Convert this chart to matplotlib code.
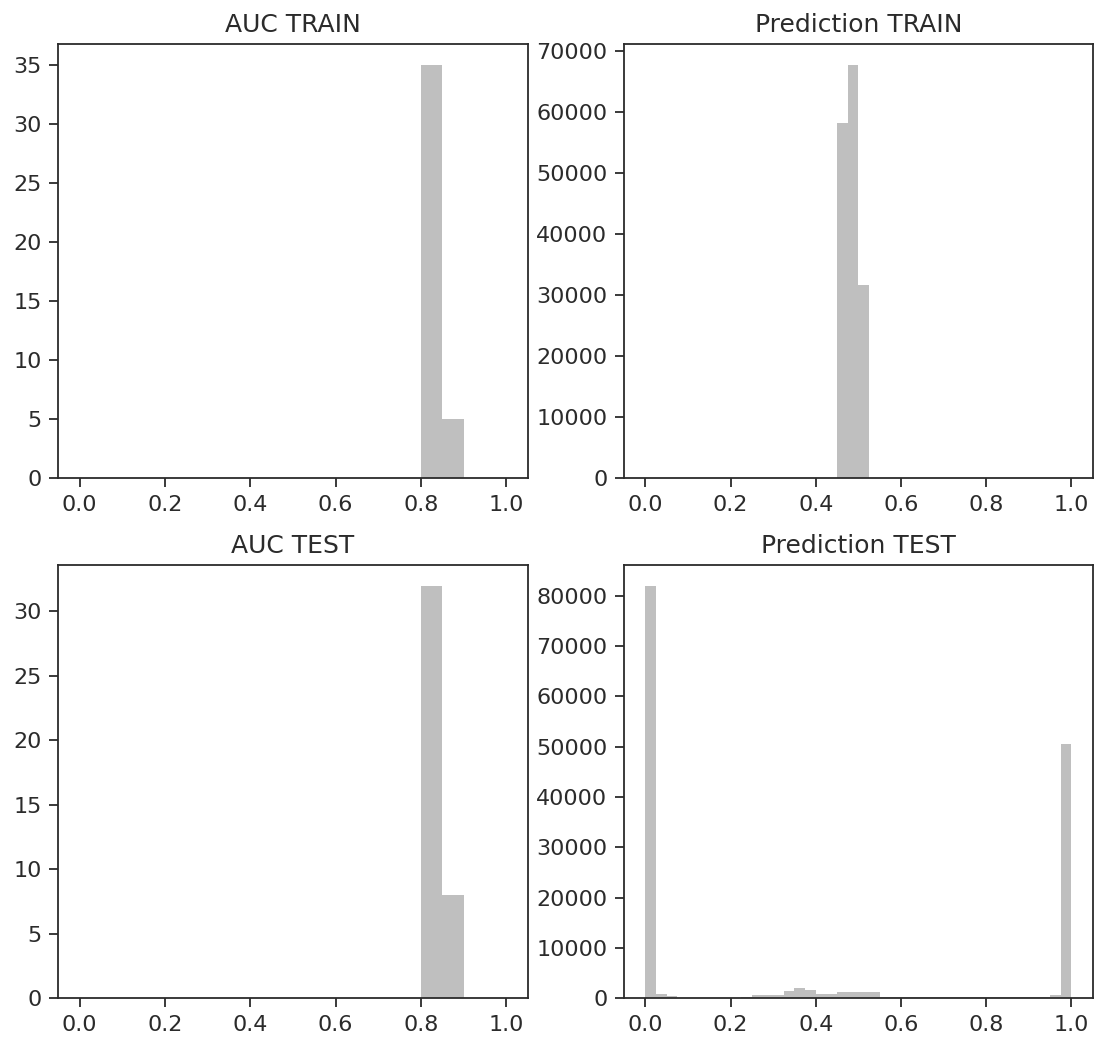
import matplotlib
matplotlib.use("Agg")
import matplotlib.pyplot as plt
import numpy as np

# histogram counts per bin (bins span 0..1)
auc_train_counts = [0] * 16 + [35, 5, 0, 0]
auc_test_counts = [0] * 16 + [32, 8, 0, 0]

pred_train_counts = [0] * 18 + [58200, 67700, 31600] + [0] * 19

pred_test_counts = [
    82000, 800, 500, 100, 100, 100, 100, 150, 150, 200,
    600, 600, 600, 1450, 2000, 1700, 850, 850, 1150, 1150,
    1150, 1150, 250, 250, 250, 250, 250, 300, 300, 250,
    300, 300, 250, 250, 250, 250, 250, 300, 600, 50600,
]

titles = ["AUC TRAIN", "Prediction TRAIN", "AUC TEST", "Prediction TEST"]
all_counts = [auc_train_counts, pred_train_counts, auc_test_counts, pred_test_counts]

ink = "#2b2b2b"
plt.rcParams["font.family"] = "DejaVu Sans"
plt.rcParams["text.color"] = ink
plt.rcParams["axes.edgecolor"] = ink
plt.rcParams["xtick.color"] = ink
plt.rcParams["ytick.color"] = ink
plt.rcParams["axes.linewidth"] = 1.3
plt.rcParams["xtick.major.width"] = 1.3
plt.rcParams["ytick.major.width"] = 1.3
plt.rcParams["xtick.major.size"] = 6.5
plt.rcParams["ytick.major.size"] = 6.5
plt.rcParams["xtick.major.pad"] = 5.5
plt.rcParams["ytick.major.pad"] = 5.5
plt.rcParams["xtick.labelsize"] = 16
plt.rcParams["ytick.labelsize"] = 16

fig = plt.figure(figsize=(10.99, 10.39), dpi=100)

# [left, bottom, width, height]
rects = [
    [0.0530, 0.5397, 0.4271, 0.4177],
    [0.5678, 0.5397, 0.4265, 0.4177],
    [0.0530, 0.0392, 0.4271, 0.4170],
    [0.5678, 0.0392, 0.4265, 0.4170],
]

for rect, title, counts in zip(rects, titles, all_counts):
    ax = fig.add_axes(rect)
    counts = np.array(counts, dtype=float)
    edges = np.linspace(0, 1, len(counts) + 1)
    ax.hist(edges[:-1], bins=edges, weights=counts, color="grey", alpha=0.5)
    ax.set_title(title, fontsize=18, pad=9)
    ax.set_xticks([0.0, 0.2, 0.4, 0.6, 0.8, 1.0])

fig.savefig("out.png", dpi=100)
